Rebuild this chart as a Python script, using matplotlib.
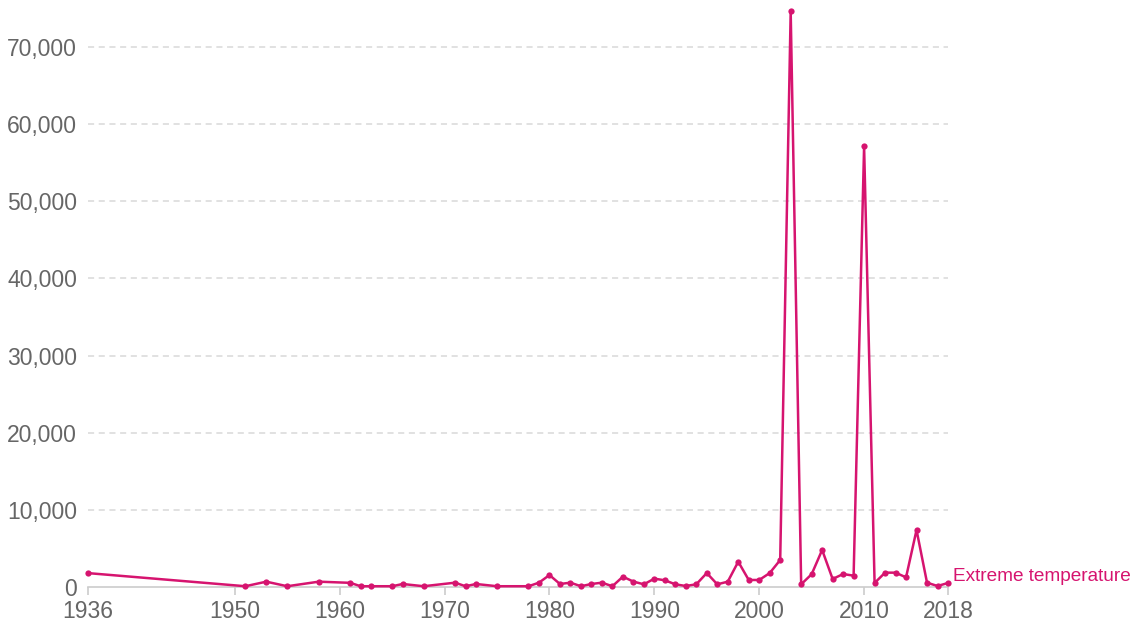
import matplotlib
matplotlib.use("Agg")
import matplotlib.pyplot as plt
from matplotlib.ticker import FuncFormatter

plt.rcParams['font.family'] = ['Liberation Sans', 'DejaVu Sans']

years = [1936, 1951, 1953, 1955, 1958, 1961, 1962, 1963, 1965, 1966, 1968,
         1971, 1972, 1973, 1975, 1978, 1979, 1980, 1981, 1982, 1983, 1984,
         1985, 1986, 1987, 1988, 1989, 1990, 1991, 1992, 1993, 1994, 1995,
         1996, 1997, 1998, 1999, 2000, 2001, 2002, 2003, 2004, 2005, 2006,
         2007, 2008, 2009, 2010, 2011, 2012, 2013, 2014, 2015, 2016, 2017, 2018]
deaths = [1800, 100, 690, 100, 690, 540, 100, 100, 100, 390, 100,
          560, 100, 390, 100, 100, 560, 1550, 390, 560, 100, 390,
          560, 100, 1340, 700, 350, 1080, 870, 350, 130, 350, 1810,
          350, 690, 3280, 910, 910, 1810, 3500, 74600, 350, 1660, 4800,
          1040, 1680, 1470, 57100, 520, 1860, 1860, 1250, 7390, 560, 130, 520]
x_ticks = [1936, 1950, 1960, 1970, 1980, 1990, 2000, 2010, 2018]
y_ticks = [0, 10000, 20000, 30000, 40000, 50000, 60000, 70000]
series_name = "Extreme temperature"

color = "#d6146f"
grey = "#666666"

fig = plt.figure(figsize=(11.4, 6.23), dpi=100)
ax = fig.add_axes([88/1140, 1 - 587/623, (948-88)/1140, (587-8.4)/623])

ax.plot(years, deaths, color=color, lw=1.8, marker='o', ms=4.5,
        markeredgewidth=0, clip_on=False, zorder=3)

ax.set_xlim(1936, 2018)
ax.set_ylim(0, 75000)
ax.set_xticks(x_ticks)
ax.set_yticks(y_ticks)
ax.yaxis.set_major_formatter(FuncFormatter(lambda v, p: f"{int(v):,}"))

for s in ['top', 'right', 'left']:
    ax.spines[s].set_visible(False)
ax.spines['bottom'].set_color('#cccccc')
ax.spines['bottom'].set_linewidth(1.2)

ax.tick_params(axis='x', colors='#cccccc', labelcolor=grey, labelsize=16.5,
               length=6, width=1.2, pad=3)
ax.tick_params(axis='y', length=0, labelcolor=grey, labelsize=16.5, pad=8)

for t in y_ticks[1:]:
    ax.axhline(t, color='#d9d9d9', lw=1.1, ls=(0, (4, 3)), zorder=1)

ax.text(2018.5, 1350, series_name, color=color, fontsize=13.7,
        va='center', ha='left', clip_on=False)

fig.savefig("out.png", dpi=100)
